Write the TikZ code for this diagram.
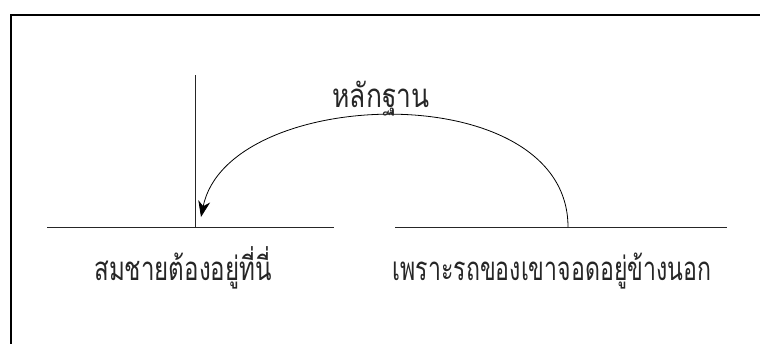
\documentclass[tikz,border=0pt]{standalone}
\usepackage{fontspec}
\newfontfamily\claimfont[Script=Thai, FakeStretch=0.73]{Loma}
\newfontfamily\groundfont[Script=Thai, FakeStretch=0.7]{Loma}
\newfontfamily\evidfont[Script=Thai, FakeStretch=0.8]{Loma}
\usetikzlibrary{arrows.meta}

\begin{document}
\begin{tikzpicture}[
    x=1pt, y=-1pt,
    baseline/.style={black!85, line width=0.9pt},
    frameline/.style={black, line width=1.4pt},
    claimarrow/.style={black, line width=0.8pt,
                       -{Stealth[length=16pt, width=12pt, inset=5pt]}},
    lbl/.style={inner sep=0pt, anchor=base, black!85},
    claimlbl/.style={lbl, font=\claimfont\fontsize{33}{38}\selectfont},
    groundlbl/.style={lbl, font=\groundfont\fontsize{33}{38}\selectfont},
    evidlbl/.style={lbl, font=\evidfont\fontsize{33}{38}\selectfont}
]

% ---------- canvas ----------
\useasboundingbox (0,0) rectangle (760,343);
\draw[frameline] (11,344) -- (11,15) -- (761,15);

% ---------- ground lines ----------
\coordinate (lstart) at (47,227);
\coordinate (lend)   at (334,227);
\coordinate (rstart) at (395,227);
\coordinate (rend)   at (727,227);
\draw[baseline] (lstart) -- (lend);
\draw[baseline] (rstart) -- (rend);

% ---------- claim post ----------
\coordinate (postfoot) at (195,227);
\coordinate (posttop)  at (195,75);
\draw[baseline] (postfoot) -- (posttop);

% ---------- evidence arc ----------
\coordinate (reason) at (568,227);
\coordinate (tip)    at (201,217);
\draw[claimarrow] (reason) .. controls (568,75) and (228,85) .. (tip);
\node[evidlbl] (evidence) at (381,107) {หลักฐาน};

% ---------- statements ----------
\node[claimlbl]  (claim)  at (183,280) {สมชายต้องอยู่ที่นี่};
\node[groundlbl] (ground) at (552,280) {เพราะรถของเขาจอดอยู่ข้างนอก};

\end{tikzpicture}
\end{document}
